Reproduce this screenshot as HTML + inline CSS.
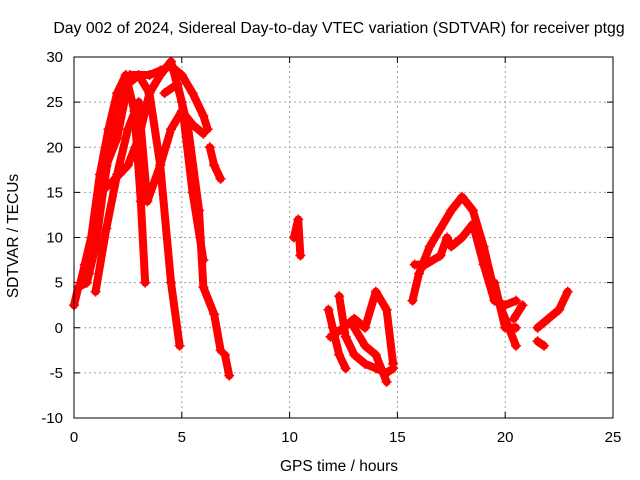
<!DOCTYPE html>
<html><head><meta charset="utf-8"><style>
body{margin:0;background:#fff;}
svg{display:block;font-family:"Liberation Sans",sans-serif;}
</style></head><body>
<svg id="chart" width="640" height="480">
<rect width="640" height="480" fill="#fff"/>
<text x="339" y="33" text-anchor="middle" font-size="15.8">Day 002 of 2024, Sidereal Day-to-day VTEC variation (SDTVAR) for receiver ptgg</text>
<text x="339" y="471" text-anchor="middle" font-size="15.5">GPS time / hours</text>
<text transform="translate(18,236) rotate(-90)" text-anchor="middle" font-size="15.5">SDTVAR / TECUs</text>
<g id="grid"></g><g id="ticks"></g><g id="marks"></g>
<rect x="74" y="57" width="539" height="361" fill="none" stroke="#000"/>
</svg>
<script>
const xTicks=[0,5,10,15,20,25];
const yTicks=[-10,-5,0,5,10,15,20,25,30];
const trackA=[[0.3,5],[0.8,10],[1.2,17],[1.6,22],[2,26],[2.4,28],[2.8,24],[3.1,14],[3.3,5]];
const trackB=[[0.5,7],[1,12],[1.5,18],[2,21],[2.5,27],[3,28],[3.5,26],[4,18],[4.5,5],[4.9,-2]];
const trackC=[[0.7,6],[1.2,15],[1.7,16],[2.5,18],[3,21],[3.5,26],[4,28],[4.5,29.5],[5,25],[5.5,15],[6,7.5]];
const trackD=[[1,4],[1.5,11],[2,17],[2.5,22],[3,25],[3.4,14],[4,18],[4.5,22],[5,24],[5.5,22.5],[6,21.5]];
const trackE=[[0,2.5],[0.2,4.5],[0.6,5],[1,9],[1.4,16],[1.8,22],[2.2,26.5],[2.6,28],[3,28],[3.5,28],[4,28.5],[4.5,29],[5,28],[5.5,26],[6,23.5],[6.2,22]];
const trackF=[[4.2,26],[4.8,27],[5.3,22],[5.8,13],[6,4.5],[6.5,1.5],[6.8,-2.5]];
const trackG=[[6.3,20],[6.5,18],[6.8,16.5]];
const trackH=[[7,-3],[7.2,-5.3]];
const trackI=[[10.2,10],[10.4,12],[10.5,8]];
const trackJ=[[11.8,2],[12,0],[12.3,-3],[12.6,-4.5]];
const trackK=[[11.9,-1],[12.5,0],[13,1],[13.5,0],[14,4],[14.5,2],[14.8,-4]];
const trackL=[[12.3,3.5],[12.6,-1],[13,-3],[13.5,-4],[14,-4.5],[14.5,-5],[14.8,-4.5]];
const trackM=[[13,0],[13.5,-2],[14,-3],[14.5,-6]];
const trackN=[[15.7,3],[16,6],[16.5,9],[17,11],[17.5,13],[18,14.5],[18.5,13],[19,9],[19.5,4],[20,1],[20.5,-2]];
const trackO=[[15.8,7],[16.3,7],[17,8],[17.3,10],[17.5,9],[18,10],[18.5,11.5],[19,7],[19.5,3],[20,2.5],[20.5,3]];
const trackP=[[19.5,5],[20,0],[20.5,0]];
const trackQ=[[21.5,-1.5],[21.8,-2]];
const trackR=[[21.5,0],[22,1],[22.5,2],[22.9,4]];
const trackS=[[20.4,1],[20.8,2.5]];
const tracks=[trackA,trackB,trackC,trackD,trackE,trackF,trackG,trackH,trackI,trackJ,trackK,trackL,trackM,trackN,trackO,trackP,trackQ,trackR,trackS];

const NS="http://www.w3.org/2000/svg";
const X0=74,X1=613,Y0=418,Y1=57;
const sx=v=>X0+(v-0)/(25-0)*(X1-X0);
const sy=v=>Y0-(v+10)/(40)*(Y0-Y1);
const grid=document.getElementById('grid'),ticks=document.getElementById('ticks'),marks=document.getElementById('marks');
function mk(tag,attrs,parent){const e=document.createElementNS(NS,tag);for(const k in attrs)e.setAttribute(k,attrs[k]);parent.appendChild(e);return e;}
xTicks.forEach(t=>{
  const x=sx(t);
  if(t>0&&t<25){const g=mk('line',{x1:x,x2:x,y1:Y0,y2:Y1,stroke:'#a0a0a0','stroke-dasharray':'2,3'},grid);
  
  }
  mk('line',{x1:x,x2:x,y1:Y0,y2:Y0-6,stroke:'#000'},ticks);
  mk('line',{x1:x,x2:x,y1:Y1,y2:Y1+6,stroke:'#000'},ticks);
  const l=mk('text',{x:x,y:Y0+24,'text-anchor':'middle','font-size':15},ticks);
  l.textContent=t;
  
  
});
yTicks.forEach(t=>{
  const y=sy(t);
  if(t>-10&&t<30){const g=mk('line',{x1:X0,x2:X1,y1:y,y2:y,stroke:'#a0a0a0','stroke-dasharray':'2,3'},grid);
  
  }
  mk('line',{x1:X0,x2:X0+6,y1:y,y2:y,stroke:'#000'},ticks);
  mk('line',{x1:X1,x2:X1-6,y1:y,y2:y,stroke:'#000'},ticks);
  const l=mk('text',{x:X0-11,y:y+5,'text-anchor':'end','font-size':15},ticks);
  l.textContent=t;
  
  
});
tracks.forEach(tr=>{
  const p=mk('polyline',{points:tr.map(d=>sx(d[0])+','+sy(d[1])).join(' '),fill:'none',stroke:'#f00','stroke-width':8,'stroke-linejoin':'round','stroke-linecap':'round'},marks);
  
  
  tr.forEach(d=>{
    const m=mk('path',{d:`M${sx(d[0])-5},${sy(d[1])}h10M${sx(d[0])},${sy(d[1])-5}v10`,stroke:'#f00','stroke-width':1.5},marks);
    
    
  });
});
</script>
</body></html>
